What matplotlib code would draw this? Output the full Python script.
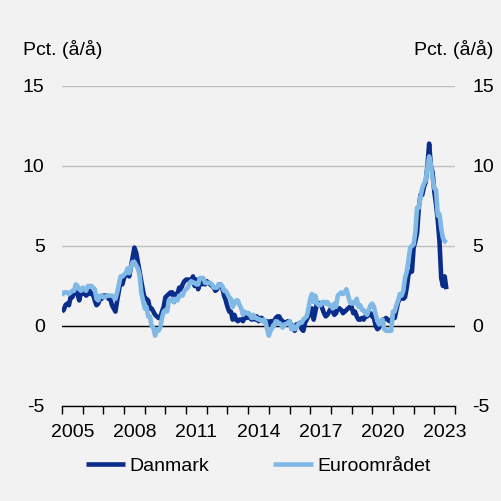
import numpy as np
import matplotlib.pyplot as plt

plt.rcParams['font.family'] = ['Liberation Sans', 'DejaVu Sans']
plt.rcParams['axes.unicode_minus'] = False

# monthly inflation, pct y/y, Jan 2005 - Aug 2023
start_year = 2005
danmark = [
    0.9, 1.0, 1.3, 1.4, 1.3, 1.8, 1.8, 2.1, 2.4, 2.0, 1.6, 2.2,   # 2005
    2.0, 2.2, 1.9, 2.0, 2.2, 2.0, 2.0, 1.6, 1.3, 1.4, 1.7, 1.7,   # 2006
    1.9, 1.9, 1.9, 1.7, 1.7, 1.3, 1.1, 0.9, 1.6, 2.2, 2.8, 2.6,   # 2007
    3.0, 3.2, 3.3, 3.1, 3.7, 4.3, 4.9, 4.6, 4.0, 3.4, 2.8, 2.2,   # 2008
    1.7, 1.7, 1.6, 1.1, 1.1, 0.9, 0.7, 0.6, 0.5, 0.5, 0.9, 1.2,   # 2009
    1.8, 1.9, 2.0, 2.1, 2.1, 1.5, 2.0, 2.0, 2.4, 2.3, 2.6, 2.8,   # 2010
    2.9, 2.9, 2.9, 2.8, 3.1, 2.5, 2.9, 2.3, 2.8, 2.6, 2.7, 2.6,   # 2011
    2.8, 2.7, 2.6, 2.5, 2.4, 2.2, 2.3, 2.6, 2.6, 2.4, 1.9, 1.6,   # 2012
    1.2, 0.9, 0.9, 0.4, 0.7, 0.4, 0.3, 0.4, 0.4, 0.3, 0.6, 0.5,   # 2013
    0.8, 0.5, 0.4, 0.5, 0.4, 0.6, 0.3, 0.5, 0.5, 0.3, 0.3, 0.3,   # 2014
    0.1, 0.3, 0.3, 0.3, 0.5, 0.6, 0.6, 0.4, 0.3, 0.2, 0.2, 0.3,   # 2015
    0.3, 0.0, 0.0, -0.3, 0.1, 0.1, 0.2, -0.2, -0.3, 0.2, 0.4, 0.6,  # 2016
    1.0, 1.1, 0.4, 0.9, 1.5, 1.4, 1.4, 1.1, 0.8, 0.6, 0.7, 0.9,   # 2017
    1.1, 0.9, 0.7, 0.8, 1.1, 1.1, 1.0, 0.8, 0.9, 1.0, 1.1, 1.2,   # 2018
    1.2, 0.8, 0.9, 0.6, 0.4, 0.4, 0.5, 0.4, 0.6, 0.6, 0.7, 0.8,   # 2019
    0.6, 0.5, 0.0, -0.2, -0.1, 0.2, 0.4, 0.4, 0.5, 0.4, 0.3, 0.3,  # 2020
    0.6, 0.5, 1.0, 1.5, 1.7, 1.9, 1.7, 1.8, 2.4, 3.2, 3.4, 3.4,   # 2021
    4.9, 5.3, 5.8, 7.4, 8.2, 8.2, 8.7, 9.0, 10.0, 11.4, 10.0, 9.6,  # 2022
    8.4, 7.6, 6.6, 5.3, 3.0, 2.5, 3.1, 2.3,                       # 2023
]
euroomraadet = [
    1.9, 2.1, 2.1, 2.1, 2.0, 2.1, 2.2, 2.2, 2.6, 2.5, 2.3, 2.2,   # 2005
    2.4, 2.3, 2.2, 2.5, 2.5, 2.5, 2.4, 2.3, 1.7, 1.6, 1.9, 1.9,   # 2006
    1.8, 1.8, 1.9, 1.9, 1.9, 1.9, 1.8, 1.7, 2.1, 2.6, 3.1, 3.1,   # 2007
    3.2, 3.3, 3.6, 3.3, 3.7, 4.0, 4.0, 3.8, 3.6, 3.2, 2.1, 1.6,   # 2008
    1.1, 1.2, 0.6, 0.6, 0.0, -0.1, -0.6, -0.2, -0.3, -0.1, 0.5, 0.9,  # 2009
    1.0, 0.9, 1.6, 1.6, 1.7, 1.5, 1.7, 1.6, 1.9, 1.9, 1.9, 2.2,   # 2010
    2.3, 2.4, 2.7, 2.8, 2.7, 2.7, 2.6, 2.6, 3.0, 3.0, 3.0, 2.7,   # 2011
    2.7, 2.7, 2.7, 2.6, 2.4, 2.4, 2.4, 2.6, 2.6, 2.5, 2.2, 2.2,   # 2012
    2.0, 1.8, 1.7, 1.2, 1.4, 1.6, 1.6, 1.3, 1.1, 0.7, 0.9, 0.8,   # 2013
    0.8, 0.7, 0.5, 0.7, 0.5, 0.5, 0.4, 0.4, 0.3, 0.4, 0.3, -0.2,  # 2014
    -0.6, -0.3, -0.1, 0.0, 0.3, 0.2, 0.2, 0.1, -0.1, 0.1, 0.1, 0.2,  # 2015
    0.3, -0.2, 0.0, -0.2, -0.1, 0.1, 0.2, 0.2, 0.4, 0.5, 0.6, 1.1,  # 2016
    1.7, 2.0, 1.5, 1.9, 1.4, 1.3, 1.3, 1.5, 1.5, 1.4, 1.5, 1.3,   # 2017
    1.3, 1.1, 1.4, 1.2, 1.9, 2.0, 2.1, 2.0, 2.1, 2.3, 1.9, 1.5,   # 2018
    1.4, 1.5, 1.4, 1.7, 1.2, 1.3, 1.0, 1.0, 0.8, 0.7, 1.0, 1.3,   # 2019
    1.4, 1.2, 0.7, 0.3, 0.1, 0.3, 0.4, -0.2, -0.3, -0.3, -0.3, -0.3,  # 2020
    0.9, 0.9, 1.3, 1.6, 2.0, 1.9, 2.2, 3.0, 3.4, 4.1, 4.9, 5.0,   # 2021
    5.1, 5.9, 7.4, 7.4, 8.1, 8.6, 8.9, 9.1, 9.9, 10.6, 10.1, 9.2,  # 2022
    8.6, 8.5, 6.9, 7.0, 6.1, 5.5, 5.3, 5.2,                       # 2023
]
year_ticks = list(range(2005, 2025))
year_labels = [2005, 2008, 2011, 2014, 2017, 2020, 2023]
y_ticks = [-5, 0, 5, 10, 15]

dark = '#0a2d8c'
light = '#80b8e6'
bg = '#f2f2f2'

x = start_year + np.arange(len(danmark)) / 12

fig = plt.figure(figsize=(5.02, 5.01), dpi=100, facecolor=bg)
ax = fig.add_axes([62 / 502, 1 - 406 / 501, (455 - 62) / 502, (406 - 86) / 501])
ax.set_facecolor(bg)

ax.plot(x, danmark, color=dark, lw=3.3, label='Danmark', solid_capstyle='butt')
ax.plot(x, euroomraadet, color=light, lw=3.3, label='Euroområdet', solid_capstyle='butt')
ax.axhline(0, color='black', lw=1, zorder=1.9)

ax.set_xlim(2005, 2024)
ax.set_ylim(-5, 15)
ax.set_yticks(y_ticks)
ax.grid(axis='y', color='#bfbfbf', lw=1)
ax.set_axisbelow(True)

ax.set_xticks(year_ticks)
ax.set_xticklabels([])
ax.set_xticks([y + 0.5 for y in year_labels], minor=True)
ax.set_xticklabels([str(y) for y in year_labels], minor=True)
ax.tick_params(axis='x', which='major', length=6, width=1, direction='out')
ax.tick_params(axis='x', which='minor', length=0, pad=13, labelsize=14)
ax.tick_params(axis='y', length=0, pad=12.5, labelsize=14, labelright=True)

for side in ['top', 'left', 'right']:
    ax.spines[side].set_visible(False)
ax.spines['bottom'].set_linewidth(1)

fig.text(23 / 502, 1 - 55 / 501, 'Pct. (å/å)', fontsize=14, ha='left', va='baseline')
fig.text(493 / 502, 1 - 55 / 501, 'Pct. (å/å)', fontsize=14, ha='right', va='baseline')

fig.legend(loc='center', bbox_to_anchor=(258 / 502, 1 - 466 / 501), ncol=2,
           frameon=False, fontsize=14, handlelength=2.05, handletextpad=0.2,
           columnspacing=3.3, borderaxespad=0)

fig.savefig('out.png', dpi=100, facecolor=bg)
